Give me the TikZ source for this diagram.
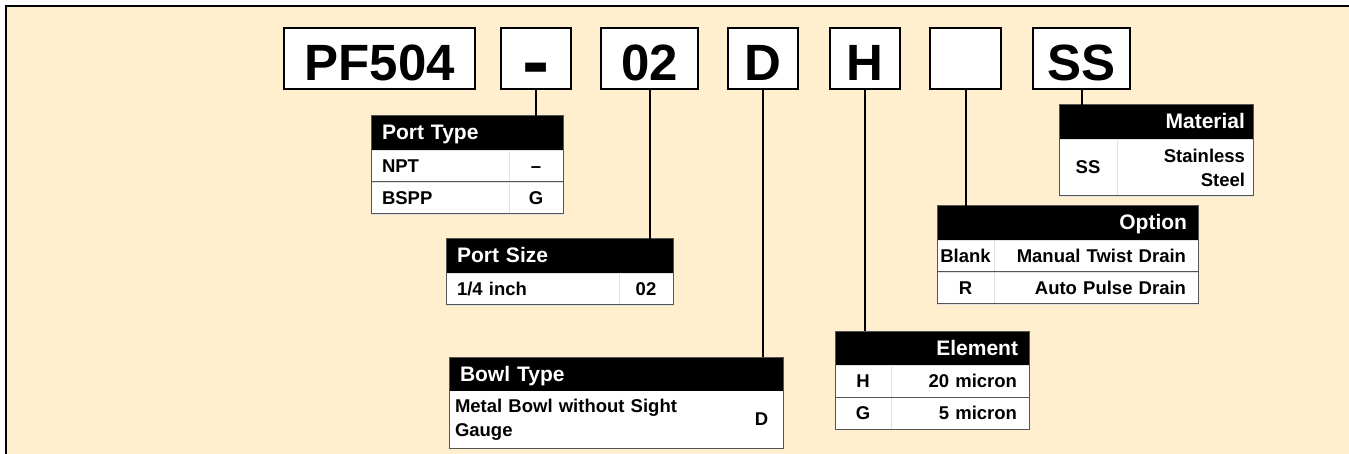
\documentclass[tikz,border=0pt]{standalone}
\usepackage{fontspec}
\setmainfont{Liberation Sans}
\usetikzlibrary{positioning}
\definecolor{cream}{HTML}{FFEFCF}
\definecolor{tblline}{HTML}{555555}
\definecolor{tbldiv}{HTML}{E2E2E2}
\tikzset{
  codebox/.style={draw, line width=2.2pt, fill=white, minimum height=61pt, inner sep=0pt,
    text height=44pt, text depth=0pt, font=\fontsize{51}{51}\selectfont\bfseries, anchor=north west},
  tblhead/.style={fill=black, text=white, minimum height=34pt, inner sep=0pt, inner xsep=11pt,
    outer sep=0pt, text height=16pt, text depth=2pt, font=\fontsize{21}{24}\selectfont\bfseries, anchor=north west},
  cellbase/.style={draw=tbldiv, line width=0.8pt, fill=white, inner sep=0pt, outer sep=0pt,
    align=center, font=\fontsize{18.5}{24}\selectfont\bfseries, anchor=north west},
  tcell/.style={cellbase, minimum height=32pt, text height=13.3pt, text depth=0pt},
  tallcell/.style={cellbase, minimum height=57pt},
  tblframe/.style={draw=tblline, line width=1pt},
  leadline/.style={line width=2pt},
}
\begin{document}
\begin{tikzpicture}[x=1pt,y=-1pt]
\useasboundingbox (0,0) rectangle (1349,454);
\fill[cream] (6,6) rectangle (1349,454);
\draw[line width=2pt] (6,454) -- (6,6) -- (1349,6);

% ordering code
\node[codebox, minimum width=191pt] (cPF) at (283,27) {PF504};
\node[codebox, minimum width=70pt] (cType) at (500,27) {\raisebox{-7pt}{\scalebox{1.6}[1.5]{-}}};
\node[codebox, minimum width=97pt] (cSize) at (600,27) {02};
\node[codebox, minimum width=70pt] (cBowl) at (727,27) {D};
\node[codebox, minimum width=70pt] (cElem) at (829,27) {H};
\node[codebox, minimum width=71pt] (cOpt) at (929,27) {};
\node[codebox, minimum width=97pt] (cMat) at (1032,27) {SS};

% port type
\node[tblhead, text width=170pt, align=left] (type-h) at (371,116) {Port Type};
\node[tcell, text width=116pt, inner xsep=11pt, align=left] (type-1a) at (type-h.south west) {NPT};
\node[tcell, text width=54pt, right=0pt of type-1a] (type-1b) {--};
\node[tcell, text width=116pt, inner xsep=11pt, align=left, below=0pt of type-1a] (type-2a) {BSPP};
\node[tcell, text width=54pt, right=0pt of type-2a] (type-2b) {G};
\draw[tblframe] (type-1a.south west) -- (type-1b.south east);
\draw[tblframe] (type-h.north west) rectangle (type-2b.south east);

% port size
\node[tblhead, text width=205pt, align=left] (size-h) at (446,239) {Port Size};
\node[tcell, text width=151pt, inner xsep=11pt, align=left] (size-1a) at (size-h.south west) {1/4 inch};
\node[tcell, text width=54pt, right=0pt of size-1a] (size-1b) {02};
\draw[tblframe] (size-h.north west) rectangle (size-1b.south east);

% bowl type
\node[tblhead, text width=312pt, align=left] (bowl-h) at (449,357) {Bowl Type};
\node[tallcell, draw=white, text width=279pt, inner xsep=6pt, align=left] (bowl-1a) at (bowl-h.south west) {Metal Bowl without Sight\\Gauge};
\node[tallcell, draw=white, text width=43pt, right=0pt of bowl-1a] (bowl-1b) {D};
\draw[tblframe] (bowl-h.north west) rectangle (bowl-1b.south east);

% element
\node[tblhead, text width=172pt, align=right] (elem-h) at (835,331) {Element};
\node[tcell, text width=56pt] (elem-1a) at (elem-h.south west) {H};
\node[tcell, text width=114pt, inner xsep=12pt, align=right, right=0pt of elem-1a] (elem-1b) {20 micron};
\node[tcell, text width=56pt, below=0pt of elem-1a] (elem-2a) {G};
\node[tcell, text width=114pt, inner xsep=12pt, align=right, right=0pt of elem-2a] (elem-2b) {5 micron};
\draw[tblframe] (elem-1a.south west) -- (elem-1b.south east);
\draw[tblframe] (elem-h.north west) rectangle (elem-2b.south east);

% option
\node[tblhead, text width=239pt, align=right] (opt-h) at (937,206) {Option};
\node[tcell, text width=57pt] (opt-1a) at (opt-h.south west) {Blank};
\node[tcell, text width=180pt, inner xsep=12pt, align=right, right=0pt of opt-1a] (opt-1b) {Manual Twist Drain};
\node[tcell, text width=57pt, below=0pt of opt-1a] (opt-2a) {R};
\node[tcell, text width=180pt, inner xsep=12pt, align=right, right=0pt of opt-2a] (opt-2b) {Auto Pulse Drain};
\draw[tblframe] (opt-1a.south west) -- (opt-1b.south east);
\draw[tblframe] (opt-h.north west) rectangle (opt-2b.south east);

% material
\node[tblhead, text width=178pt, inner xsep=8pt, align=right] (mat-h) at (1059,105) {Material};
\node[tallcell, text width=58pt] (mat-1a) at (mat-h.south west) {SS};
\node[tallcell, text width=120pt, inner xsep=8pt, align=right, right=0pt of mat-1a] (mat-1b) {Stainless\\Steel};
\draw[tblframe] (mat-h.north west) rectangle (mat-1b.south east);

% leaders
\draw[leadline] (cType.south) -- (cType.south |- type-h.north);
\draw[leadline] (cSize.south) -- (cSize.south |- size-h.north);
\draw[leadline] (cBowl.south) -- (cBowl.south |- bowl-h.north);
\draw[leadline] (cElem.south) -- (cElem.south |- elem-h.north);
\draw[leadline] (cOpt.south) -- (cOpt.south |- opt-h.north);
\draw[leadline] (cMat.south) -- (cMat.south |- mat-h.north);
\end{tikzpicture}
\end{document}
